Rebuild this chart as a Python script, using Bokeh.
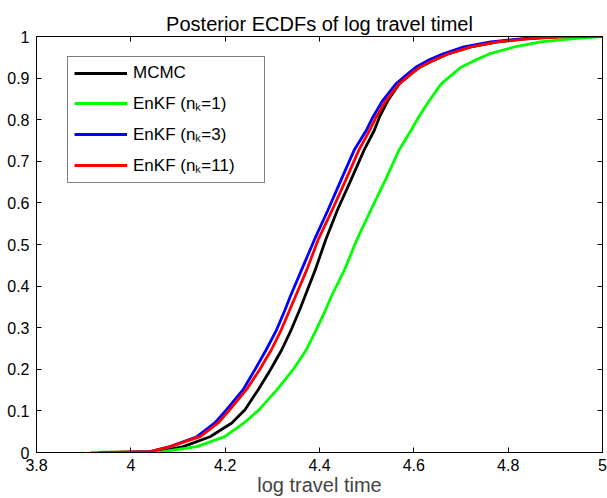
from bokeh.plotting import figure
from bokeh.models import LinearAxis, FixedTicker, Legend, LegendItem, Range1d
from bokeh.embed import file_html
from bokeh.resources import INLINE

# ---- data ----
# cumulative probability levels at which curve positions were read
levels = [0.0, 0.002, 0.014, 0.038, 0.071, 0.103, 0.151, 0.199, 0.247, 0.295,
          0.343, 0.375, 0.439, 0.511, 0.583, 0.656, 0.728, 0.774, 0.806, 0.846,
          0.886, 0.910, 0.926, 0.942, 0.958, 0.975, 0.987, 0.995, 1.0, 1.0]

mcmc_x = [3.99, 4.06, 4.111, 4.168, 4.214, 4.242, 4.270, 4.296, 4.320, 4.340,
          4.358, 4.369, 4.391, 4.413, 4.438, 4.467, 4.495, 4.516, 4.527, 4.545,
          4.569, 4.594, 4.612, 4.640, 4.672, 4.721, 4.777, 4.840, 4.91, 5.05]
enkf1_x = [3.915, 4.068, 4.140, 4.199, 4.240, 4.272, 4.310, 4.344, 4.372, 4.393,
           4.413, 4.425, 4.453, 4.479, 4.509, 4.540, 4.569, 4.594, 4.610, 4.633,
           4.658, 4.683, 4.700, 4.728, 4.760, 4.813, 4.869, 4.939, 4.996, 5.05]
enkf3_x = [3.97, 4.041, 4.083, 4.140, 4.178, 4.203, 4.238, 4.263, 4.287, 4.309,
           4.327, 4.338, 4.362, 4.389, 4.418, 4.446, 4.474, 4.499, 4.513, 4.534,
           4.562, 4.587, 4.604, 4.629, 4.661, 4.706, 4.763, 4.832, 4.90, 5.05]
enkf11_x = [3.932, 4.041, 4.083, 4.147, 4.185, 4.210, 4.245, 4.273, 4.298, 4.319,
            4.337, 4.349, 4.373, 4.397, 4.427, 4.456, 4.484, 4.506, 4.520, 4.541,
            4.569, 4.594, 4.612, 4.640, 4.672, 4.721, 4.777, 4.848, 4.93, 5.05]

series_names = ["MCMC", "EnKF (n\u2096=1)", "EnKF (n\u2096=3)", "EnKF (n\u2096=11)"]
series_colors = ["#000000", "#00ff00", "#0000ff", "#ff0000"]

x_ticks = [3.8, 4.0, 4.2, 4.4, 4.6, 4.8, 5.0]
x_tick_labels = ["3.8", "4", "4.2", "4.4", "4.6", "4.8", "5"]
y_ticks = [0.0, 0.1, 0.2, 0.3, 0.4, 0.5, 0.6, 0.7, 0.8, 0.9, 1.0]
y_tick_labels = ["0", "0.1", "0.2", "0.3", "0.4", "0.5", "0.6", "0.7", "0.8", "0.9", "1"]

FONT = "Liberation Sans"

p = figure(width=607, height=498, x_range=Range1d(3.8, 5.0), y_range=Range1d(0, 1),
           output_backend="svg", toolbar_location=None,
           min_border_left=36, min_border_right=5, min_border_top=36, min_border_bottom=45)
p.title.text = "Posterior ECDFs of log travel timel"
p.title.align = "center"
p.title.vertical_align = "top"
p.title.text_font = FONT
p.title.text_font_size = "20px"
p.title.text_font_style = "normal"
p.title.text_color = "black"
p.title.standoff = 0
p.grid.visible = False
p.outline_line_color = "black"
p.outline_line_width = 1
p.background_fill_color = "white"
p.border_fill_color = "white"

def style_axis(ax, ticks, labels, show):
    ax.ticker = FixedTicker(ticks=ticks)
    ax.major_tick_in = 5
    ax.major_tick_out = 0
    ax.minor_tick_line_color = None
    ax.axis_line_color = "black"
    ax.major_tick_line_color = "black"
    ax.major_label_text_font = FONT
    ax.major_label_text_color = "black"
    if show:
        ax.major_label_overrides = dict(zip(ticks, labels))
        ax.major_label_text_font_size = "16px"
    else:
        ax.major_label_overrides = {t: "" for t in ticks}
        ax.major_label_text_font_size = "0px"
        ax.major_label_standoff = 0

style_axis(p.xaxis[0], x_ticks, x_tick_labels, True)
style_axis(p.yaxis[0], y_ticks, y_tick_labels, True)
p.xaxis[0].major_label_standoff = 6
p.yaxis[0].major_label_standoff = 7
p.xaxis[0].axis_label = "log travel time"
p.xaxis[0].axis_label_text_font = FONT
p.xaxis[0].axis_label_text_font_size = "20px"
p.xaxis[0].axis_label_text_font_style = "normal"
p.xaxis[0].axis_label_standoff = 0

top_ax = LinearAxis()
style_axis(top_ax, x_ticks, x_tick_labels, False)
p.add_layout(top_ax, "above")
right_ax = LinearAxis()
style_axis(right_ax, y_ticks, y_tick_labels, False)
p.add_layout(right_ax, "right")

xs = [mcmc_x, enkf1_x, enkf3_x, enkf11_x]
renderers = []
for x, c in zip(xs, series_colors):
    r = p.line(x, levels, line_color=c, line_width=2.8)
    renderers.append(r)

items = [LegendItem(label=n, renderers=[r]) for n, r in zip(series_names, renderers)]
legend = Legend(items=items, location=(31, 269))
legend.label_text_font = FONT
legend.label_text_font_size = "17px"
legend.label_text_color = "black"
legend.glyph_width = 53
legend.glyph_height = 20
legend.label_height = 20
legend.label_width = 125
legend.label_standoff = 6
legend.spacing = 8
legend.padding = 6
legend.margin = 0
legend.border_line_color = "black"
legend.border_line_width = 1
legend.background_fill_color = "white"
legend.background_fill_alpha = 1
p.add_layout(legend, "center")

open("out.html", "w").write(file_html(p, INLINE))
